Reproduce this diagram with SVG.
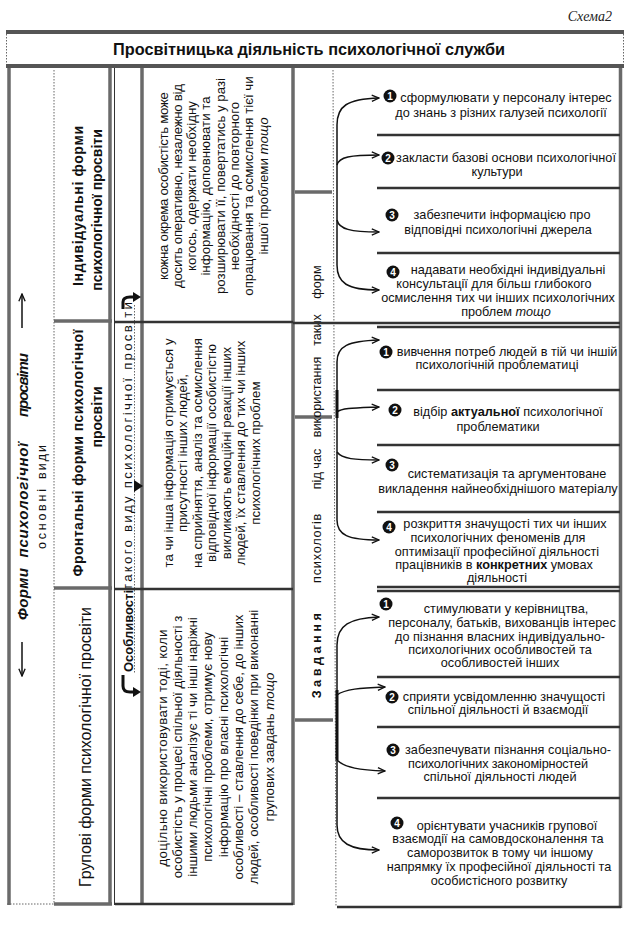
<svg xmlns="http://www.w3.org/2000/svg" width="633" height="934" viewBox="0 0 633 934">
<style>
.t{font-family:"Liberation Sans",Arial,sans-serif;font-size:12.7px;fill:#111}
.c{text-anchor:middle}
.b{font-weight:bold}
.i{font-style:italic}
.r{font-size:13.3px}
.thick{stroke:#6a6a6a;stroke-width:3.5;fill:none}
.dark{stroke:#333;stroke-width:2.5;fill:none}
.thin{stroke:#333;stroke-width:1;fill:none}
.dot{stroke:#666;stroke-width:1;stroke-dasharray:1.5 1.5;fill:none}
.arr{stroke:#111;stroke-width:1.5;fill:none;marker-end:url(#ah)}
.br{stroke:#111;stroke-width:1.5;fill:none}
.bn{font-family:"Liberation Sans",Arial,sans-serif;font-weight:bold;font-size:10px;fill:#fff;text-anchor:middle}
</style>
<defs>
<marker id="ah" viewBox="0 0 10 10" refX="9" refY="5" markerWidth="9" markerHeight="9" orient="auto" markerUnits="userSpaceOnUse"><path d="M1,1.5 L9,5 L1,8.5" fill="none" stroke="#111" stroke-width="1.5"/></marker>
</defs>
<rect width="633" height="934" fill="#fff"/>

<g id="title">
<text x="612" y="21" text-anchor="end" font-family="Liberation Serif,serif" font-style="italic" font-size="14" fill="#222">Схема2</text>
<rect x="6" y="30" width="618" height="4" fill="#555"/>
<line x1="6.5" y1="34" x2="6.5" y2="64" class="dot"/>
<line x1="623.5" y1="34" x2="623.5" y2="64" class="dot"/>
<text x="309" y="55" class="t b c" style="font-size:16.3px">Просвітницька діяльність психологічної служби</text>
<rect x="6" y="64" width="618" height="4" fill="#555"/>
</g>

<g id="frame">
<line x1="9" y1="68" x2="9" y2="905" class="thick"/>
<line x1="54" y1="70" x2="54" y2="903" class="dot"/>
<line x1="7" y1="904" x2="54" y2="904" class="dot"/>
<line x1="110" y1="68" x2="110" y2="905" class="thick"/>
<line x1="114.5" y1="68" x2="114.5" y2="905" class="thin"/>
<line x1="142" y1="68" x2="142" y2="905" class="thick"/>
<line x1="293" y1="68" x2="293" y2="905" class="thick"/>
<line x1="620.5" y1="68" x2="620.5" y2="908" class="thick" stroke="#444"/>
</g>

<g id="forms-title">
<text class="t b i c" style="font-size:15px" textLength="52" transform="translate(28,594) rotate(-90)">Форми</text>
<text class="t b i c" style="font-size:15px" textLength="115" transform="translate(28,500) rotate(-90)">психологічної</text>
<text class="t b i c" style="font-size:15px" textLength="64" transform="translate(28,385) rotate(-90)">просвіти</text>
<text class="t c" style="font-size:12.5px" textLength="60" transform="translate(46,519) rotate(-90)">основні</text>
<text class="t c" style="font-size:12.5px" textLength="34" transform="translate(46,462) rotate(-90)">види</text>
<line x1="22" y1="328" x2="22" y2="294" class="arr"/>
<line x1="22" y1="642" x2="22" y2="676" class="arr"/>
</g>

<g id="individual">
<line x1="54" y1="321" x2="112" y2="321" class="thick"/>
<text class="t b c" style="font-size:14px" textLength="160" transform="translate(83,206) rotate(-90)">Індивідуальні форми</text>
<text class="t b c" style="font-size:14px" transform="translate(102,210) rotate(-90)">психологічної просвіти</text>
</g>
<g id="frontal">
<line x1="54" y1="588" x2="112" y2="588" class="thick"/>
<text class="t b c" style="font-size:14px" textLength="247" transform="translate(83,453) rotate(-90)">Фронтальні форми психологічної</text>
<text class="t b c" style="font-size:14px" transform="translate(102,417) rotate(-90)">просвіти</text>
</g>
<g id="group">
<line x1="54" y1="904" x2="112" y2="904" class="thick" stroke="#444"/>
<text class="t c" style="font-size:16px" textLength="280" transform="translate(91,747) rotate(-90)">Групові форми психологічної просвіти</text>
</g>

<g id="features">
<line x1="134.5" y1="305" x2="134.5" y2="674" class="dot"/>
<text class="t b c" style="font-size:13px" transform="translate(132.5,631) rotate(-90)">Особливості</text>
<text class="t" style="font-size:13.3px" textLength="288" transform="translate(132,590) rotate(-90)">такого виду психологічної просвіти</text>
<path d="M123,309 L123,302 Q123,297 130,297 L134,297" stroke="#111" stroke-width="3" fill="none"/>
<path d="M133,292 L141,297 L133,302 Z" fill="#111"/>
<path d="M123,675 L123,686 Q123,692 130,692 L134,692" stroke="#111" stroke-width="3" fill="none"/>
<path d="M133,687 L141,692 L133,697 Z" fill="#111"/>
<path d="M134,480 L143,486 L134,492 Z" fill="#111"/>
</g>

<g id="desc1">
<line x1="115" y1="322" x2="293" y2="322" class="dark"/>
<g class="t r c">
<text textLength="188" transform="translate(167.5,186) rotate(-90)">кожна окрема особистість може</text>
<text textLength="204" transform="translate(181.8,186) rotate(-90)">досить оперативно, незалежно від</text>
<text transform="translate(196.1,186) rotate(-90)">когось, одержати необхідну</text>
<text transform="translate(210.4,186) rotate(-90)">інформацію, доповнювати та</text>
<text transform="translate(224.7,186) rotate(-90)">розширювати її, повертатись у разі</text>
<text transform="translate(239,186) rotate(-90)">необхідності до повторного</text>
<text transform="translate(253.3,186) rotate(-90)">опрацювання та осмислення тієї чи</text>
<text transform="translate(267.6,186) rotate(-90)">іншої проблеми <tspan class="i">тощо</tspan></text>
</g>
</g>
<g id="desc2">
<line x1="115" y1="589" x2="293" y2="589" class="dark"/>
<g class="t r c">
<text transform="translate(172.5,453) rotate(-90)">та чи інша інформація отримується у</text>
<text transform="translate(187,453) rotate(-90)">присутності інших людей,</text>
<text transform="translate(201.5,453) rotate(-90)">на сприйняття, аналіз та осмислення</text>
<text transform="translate(216,453) rotate(-90)">відповідної інформації особистістю</text>
<text transform="translate(230.5,453) rotate(-90)">викликають емоційні реакції інших</text>
<text transform="translate(245,453) rotate(-90)">людей, їх ставлення до тих чи інших</text>
<text transform="translate(259.5,453) rotate(-90)">психологічних проблем</text>
</g>
</g>
<g id="desc3">
<line x1="115" y1="904" x2="293" y2="904" class="dark"/>
<g class="t r c">
<text textLength="237" transform="translate(166.5,748) rotate(-90)">доцільно використовувати тоді, коли</text>
<text transform="translate(181.8,747) rotate(-90)">особистість у процесі спільної діяльності з</text>
<text transform="translate(197.1,747) rotate(-90)">іншими людьми аналізує ті чи інші наріжні</text>
<text transform="translate(212.4,747) rotate(-90)">психологічні проблеми, отримує нову</text>
<text transform="translate(227.7,747) rotate(-90)">інформацію про власні психологічні</text>
<text transform="translate(243,747) rotate(-90)">особливості – ставлення до себе, до інших</text>
<text transform="translate(258.3,747) rotate(-90)">людей, особливості поведінки при виконанні</text>
<text transform="translate(273.6,747) rotate(-90)">групових завдань <tspan class="i">тощо</tspan></text>
</g>
</g>

<g id="tasks-label">
<line x1="333" y1="70" x2="336" y2="906" class="dot"/>
<line x1="295" y1="192" x2="332" y2="192" class="thick" stroke="#777"/>
<line x1="295" y1="417" x2="332" y2="417" class="thick" stroke="#777"/>
<line x1="295" y1="720" x2="333" y2="720" class="thick" stroke="#777"/>
<g class="t c">
<text class="b" letter-spacing="3.5" transform="translate(321,654) rotate(-90)">Завдання</text>
<text letter-spacing="0.8" transform="translate(321,548) rotate(-90)">психологів</text>
<text transform="translate(321,469) rotate(-90)">під  час</text>
<text transform="translate(321,397) rotate(-90)">використання</text>
<text transform="translate(321,330) rotate(-90)">таких</text>
<text transform="translate(321,282) rotate(-90)">форм</text>
</g>
</g>

<g id="connectors">
<path d="M337,125 L337,265" class="br"/>
<path d="M337,125 C337,106 347,99 379,98" class="arr"/>
<path d="M337,165 C339,157 350,155 379,155" class="arr"/>
<path d="M337,220 C339,229 350,232 379,232" class="arr"/>
<path d="M337,265 C337,283 347,290 379,290" class="arr"/>
<path d="M337,362 L337,520" class="br"/>
<line x1="337" y1="390" x2="337" y2="418" stroke="#111" stroke-width="3"/>
<path d="M337,362 C337,346 348,341 379,340" class="arr"/>
<path d="M337,412 C342,408 355,408 379,407" class="arr"/>
<path d="M337,452 C342,459 355,460 379,460" class="arr"/>
<path d="M337,520 C337,535 348,540 379,540" class="arr"/>
<path d="M337,645 L337,825" class="br"/>
<line x1="337" y1="690" x2="337" y2="760" stroke="#111" stroke-width="3"/>
<path d="M337,645 C337,625 350,618 379,617" class="arr"/>
<path d="M337,695 C345,689 360,688 385,687" class="arr"/>
<path d="M337,760 C345,768 360,770 385,771" class="arr"/>
<path d="M337,825 C337,843 350,850 379,850" class="arr"/>
</g>

<g id="tasks1">
<line x1="377" y1="135" x2="620" y2="135" class="dark"/>
<line x1="377" y1="188" x2="620" y2="188" class="dark"/>
<line x1="377" y1="253" x2="620" y2="253" class="dark"/>
<line x1="293" y1="323" x2="620" y2="323" class="dark"/>
<circle cx="390" cy="96" r="6.5" fill="#111"/><text x="390" y="99.5" class="bn">1</text>
<text x="506" y="102" class="t c">сформулювати у персоналу інтерес</text>
<text x="501" y="117" class="t c">до знань з різних галузей психології</text>
<circle cx="388" cy="158" r="6.5" fill="#111"/><text x="388" y="161.5" class="bn">2</text>
<text x="506" y="162" class="t c">закласти базові основи психологічної</text>
<text x="497" y="176" class="t c">культури</text>
<circle cx="392" cy="215" r="6.5" fill="#111"/><text x="392" y="218.5" class="bn">3</text>
<text x="502" y="219" class="t c">забезпечити інформацією про</text>
<text x="498" y="234" class="t c">відповідні психологічні джерела</text>
<circle cx="393" cy="272" r="6.5" fill="#111"/><text x="393" y="275.5" class="bn">4</text>
<text x="508" y="274" class="t c">надавати необхідні індивідуальні</text>
<text x="494" y="288" class="t c">консультації для більш глибокого</text>
<text x="498" y="302" class="t c">осмислення тих чи інших психологічних</text>
<text x="506" y="316" class="t c">проблем  <tspan class="i">тощо</tspan></text>
</g>

<g id="tasks2">
<line x1="377" y1="327" x2="620" y2="327" class="dark"/>
<line x1="377" y1="390" x2="620" y2="390" class="dark"/>
<line x1="377" y1="445" x2="620" y2="445" class="dark"/>
<line x1="377" y1="512" x2="620" y2="512" class="dark"/>
<line x1="377" y1="587" x2="620" y2="587" class="dark"/>
<circle cx="386" cy="352" r="6.5" fill="#111"/><text x="386" y="355.5" class="bn">1</text>
<text x="507" y="356" class="t c">вивчення потреб людей в тій чи іншій</text>
<text x="497" y="369" class="t c">психологічній проблематиці</text>
<circle cx="395" cy="410" r="6.5" fill="#111"/><text x="395" y="413.5" class="bn">2</text>
<text x="508" y="416" class="t c">відбір <tspan class="b">актуальної</tspan> психологічної</text>
<text x="498" y="431" class="t c">проблематики</text>
<circle cx="392" cy="465" r="6.5" fill="#111"/><text x="392" y="468.5" class="bn">3</text>
<text x="507" y="478" class="t c">систематизація та аргументоване</text>
<text x="498" y="493" class="t c">викладення найнеобхіднішого матеріалу</text>
<circle cx="389" cy="527" r="6.5" fill="#111"/><text x="389" y="530.5" class="bn">4</text>
<text x="505" y="528" class="t c">розкриття значущості тих чи інших</text>
<text x="498" y="542" class="t c">психологічних феноменів для</text>
<text x="497" y="556" class="t c">оптимізації професійної діяльності</text>
<text x="494" y="569" class="t c">працівників в <tspan class="b">конкретних</tspan> умовах</text>
<text x="497" y="582" class="t c">діяльності</text>
</g>

<g id="tasks3">
<line x1="377" y1="591" x2="620" y2="591" class="dark"/>
<line x1="377" y1="677" x2="620" y2="677" class="dark"/>
<line x1="377" y1="727" x2="620" y2="727" class="dark"/>
<line x1="377" y1="798" x2="620" y2="798" class="dark"/>
<line x1="337" y1="907" x2="621" y2="907" class="dark"/>
<circle cx="386" cy="604" r="6.5" fill="#111"/><text x="386" y="607.5" class="bn">1</text>
<text x="506" y="613" class="t c">стимулювати у керівництва,</text>
<text x="502" y="627" class="t c">персоналу, батьків, вихованців інтерес</text>
<text x="500" y="641" class="t c">до пізнання власних індивідуально-</text>
<text x="500" y="654" class="t c">психологічних особливостей та</text>
<text x="500" y="667" class="t c">особливостей інших</text>
<circle cx="392" cy="697" r="6.5" fill="#111"/><text x="392" y="700.5" class="bn">2</text>
<text x="504" y="701" class="t c">сприяти усвідомленню значущості</text>
<text x="498" y="714" class="t c">спільної діяльності й взаємодії</text>
<circle cx="393" cy="750" r="6.5" fill="#111"/><text x="393" y="753.5" class="bn">3</text>
<text x="508" y="754" class="t c" textLength="206">забезпечувати пізнання соціально-</text>
<text x="498" y="768" class="t c" textLength="180">психологічних закономірностей</text>
<text x="500" y="781" class="t c">спільної діяльності людей</text>
<circle cx="397" cy="823" r="6.5" fill="#111"/><text x="397" y="826.5" class="bn">4</text>
<text x="507" y="830" class="t c">орієнтувати учасників групової</text>
<text x="498" y="843" class="t c">взаємодії на самовдосконалення та</text>
<text x="500" y="857" class="t c">саморозвиток в тому чи іншому</text>
<text x="499" y="871" class="t c">напрямку їх професійної діяльності та</text>
<text x="499" y="885" class="t c">особистісного розвитку</text>
</g>
</svg>
